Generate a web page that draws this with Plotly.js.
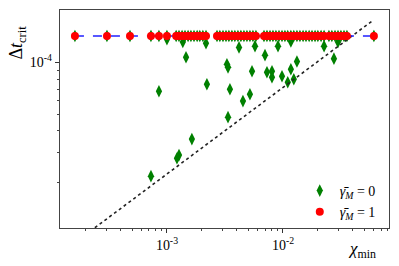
<!DOCTYPE html>
<html><head><meta charset="utf-8">
<script src="https://cdn.plot.ly/plotly-3.0.1.min.js"></script>
<style>html,body{margin:0;padding:0;background:#fff;}#chart{width:399px;height:266px;}</style>
</head><body><div id="chart"></div>
<script>
// gamma_M = 1 series (red circles), all at the same critical step
const redX = [1.61e-4, 3.04e-4, 4.80e-4, 7.28e-4, 8.53e-4, 1.00e-3, 1.20e-3, 1.27e-3, 1.35e-3, 1.43e-3,
  1.52e-3, 1.61e-3, 1.71e-3, 1.82e-3, 1.92e-3, 2.04e-3, 2.17e-3, 2.70e-3, 2.86e-3, 3.04e-3,
  3.23e-3, 3.42e-3, 3.63e-3, 3.85e-3, 4.09e-3, 4.34e-3, 4.61e-3, 4.89e-3, 5.19e-3, 5.51e-3,
  5.85e-3, 6.86e-3, 7.28e-3, 7.73e-3, 8.20e-3, 8.70e-3, 9.24e-3, 9.81e-3, 1.04e-2, 1.10e-2,
  1.17e-2, 1.24e-2, 1.32e-2, 1.40e-2, 1.49e-2, 1.58e-2, 1.68e-2, 1.78e-2, 1.89e-2, 2.00e-2,
  2.13e-2, 2.26e-2, 2.49e-2, 2.64e-2, 2.81e-2, 2.98e-2, 3.16e-2, 3.36e-2, 3.56e-2, 6.08e-2];
const redY = redX.map(() => 1.42e-4);

// gamma_M = 0 series (green diamonds): points that fall below the plateau
const greenLowX = [1.37e-3, 2.17e-3, 4.18e-3, 5.74e-3, 9.06e-3, 1.17e-2, 2.26e-2, 2.98e-2, 1.00e-3,
  1.46e-3, 7.00e-3, 2.75e-2, 1.32e-2, 3.29e-3, 3.36e-3, 5.41e-3, 1.17e-2, 7.28e-3, 8.04e-3,
  8.04e-3, 9.81e-3, 1.24e-2, 1.10e-2, 2.21e-3, 3.49e-3, 5.19e-3, 8.53e-4, 4.52e-3, 3.36e-3,
  1.64e-3, 1.22e-3, 1.27e-3, 7.28e-4];
const greenLowY = [1.31e-4, 1.29e-4, 1.22e-4, 1.24e-4, 1.24e-4, 1.32e-4, 1.24e-4, 1.31e-4, 1.36e-4,
  1.07e-4, 1.10e-4, 1.05e-4, 1.01e-4, 9.73e-5, 9.35e-5, 8.87e-5, 9.12e-5, 8.75e-5, 8.87e-5,
  8.19e-5, 8.30e-5, 7.97e-5, 7.66e-5, 7.46e-5, 6.98e-5, 6.53e-5, 6.79e-5, 5.96e-5, 4.81e-5,
  3.59e-5, 2.78e-5, 2.90e-5, 2.19e-5];
// green points hidden behind the red plateau share the red positions
const greenX = redX.concat(greenLowX);
const greenY = redY.concat(greenLowY);

// reference slope-1/2 line (end points)
const refX = [2.39e-4, 5.97e-2];
const refY = [1.10e-5, 1.75e-4];

const xMajor = [1e-3, 1e-2];
const xMajorText = ['10<sup>-3</sup>', '10<sup>-2</sup>'];
const xMinor = [2e-4,3e-4,4e-4,5e-4,6e-4,7e-4,8e-4,9e-4,2e-3,3e-3,4e-3,5e-3,6e-3,7e-3,8e-3,9e-3,2e-2,3e-2,4e-2,5e-2,6e-2,7e-2,8e-2];
const yMajor = [1e-4];
const yMajorText = ['10<sup>-4</sup>'];
const yMinor = [2e-5,3e-5,4e-5,5e-5,6e-5,7e-5,8e-5,9e-5];

const serif = '"Liberation Serif", "DejaVu Serif", serif';

const traces = [
  {x: greenX, y: greenY, mode: 'markers', type: 'scatter', name: '<i>γ̄</i><sub><i>M</i></sub> = 0',
   marker: {symbol: 'diamond-tall', size: 9, color: '#008000'}},
  {x: refX, y: refY, mode: 'lines', type: 'scatter', showlegend: false,
   line: {color: '#222', dash: 'dot', width: 1.6}},
  {x: redX, y: redY, mode: 'lines', type: 'scatter', showlegend: false,
   line: {color: '#2020ff', dash: 'dash', width: 1.5}},
  {x: redX, y: redY, mode: 'markers', type: 'scatter', name: '<i>γ̄</i><sub><i>M</i></sub> = 1',
   marker: {symbol: 'circle', size: 8, color: '#ff0000'}}
];

const layout = {
  width: 399, height: 266,
  margin: {l: 60, r: 10, t: 10, b: 38},
  paper_bgcolor: '#fff', plot_bgcolor: '#fff',
  font: {family: serif, size: 14, color: '#000'},
  xaxis: {type: 'log', range: [-3.922, -1.086], showgrid: false, zeroline: false,
    tickmode: 'array', tickvals: xMajor, ticktext: xMajorText, ticks: 'outside', ticklen: 4,
    tickcolor: '#333', linecolor: '#444', linewidth: 1.2, mirror: true,
    tickfont: {family: serif, size: 14, color: '#000'},
    minor: {tickmode: 'array', tickvals: xMinor, ticks: 'outside', ticklen: 2, tickcolor: '#444'}},
  yaxis: {type: 'log', range: [-4.96, -3.697], showgrid: false, zeroline: false,
    tickmode: 'array', tickvals: yMajor, ticktext: yMajorText, ticks: 'outside', ticklen: 4,
    tickcolor: '#333', linecolor: '#444', linewidth: 1.2, mirror: true,
    tickfont: {family: serif, size: 14, color: '#000'},
    minor: {tickmode: 'array', tickvals: yMinor, ticks: 'outside', ticklen: 2, tickcolor: '#444'}},
  legend: {x: 0.975, y: 0.0, xanchor: 'right', yanchor: 'bottom', bgcolor: 'rgba(255,255,255,0)',
    font: {family: serif, size: 14}, itemwidth: 30, tracegroupgap: 0, borderwidth: 0},
  showlegend: true,
  annotations: [
    {text: '<i>χ</i><sub>min</sub>', xref: 'paper', yref: 'paper', x: 0.917, y: -0.10,
     xanchor: 'center', yanchor: 'middle', showarrow: false, font: {family: serif, size: 17}},
    {text: 'Δ<i>t</i><sub>crit</sub>', xref: 'paper', yref: 'paper', x: -0.128, y: 0.85,
     xanchor: 'center', yanchor: 'middle', showarrow: false, textangle: -90,
     font: {family: serif, size: 18}}
  ]
};

Plotly.newPlot('chart', traces, layout, {displayModeBar: false, staticPlot: true});
</script></body></html>
